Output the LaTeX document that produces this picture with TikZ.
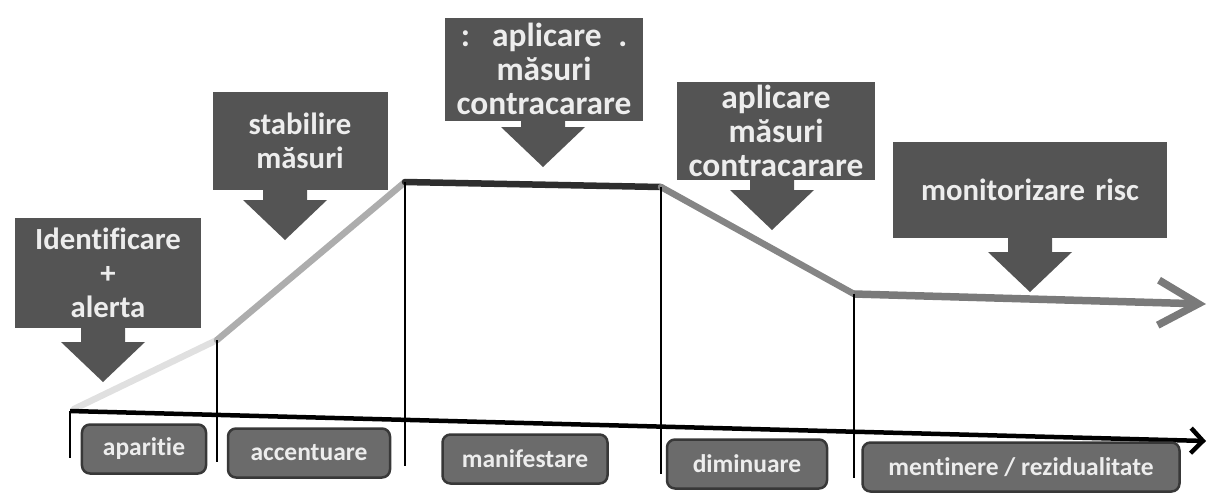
\documentclass[tikz,border=0pt]{standalone}
\usepackage{fontspec}
\setmainfont{Carlito}[Ligatures=NoCommon]
\usetikzlibrary{positioning,arrows.meta}

\begin{document}
\begin{tikzpicture}[x=0.2mm, y=-0.2mm,
  callout/.style={fill=black!67, text=white!93!black, align=center, inner sep=0pt,
    text width=#1, minimum width=#1, font=\fontsize{17.5}{19.5}\selectfont\bfseries},
  big/.style={font=\fontsize{19}{19.5}\selectfont\bfseries},
  ptr/.style={fill=black!67},
  phase/.style={draw=black!78, line width=0.5mm, fill=black!58, rounded corners=1.6mm,
    text=white!93!black, inner sep=0pt, minimum width=#1, minimum height=9.8mm,
    font=\fontsize{14.5}{16}\selectfont\bfseries},
  curve/.style={draw=#1, line width=1.3mm, line cap=round},
  tick/.style={line width=0.35mm},
  axis/.style={line width=0.9mm, -{Straight Barb[length=2.4mm,width=5mm]}}]
\useasboundingbox (0,0) rectangle (1208,495);
% --- points of the risk curve
\coordinate (c0) at (74,409);
\coordinate (c1) at (217,340);
\coordinate (c2) at (405,182);
\coordinate (c3) at (661,187);
\coordinate (c4) at (854,294);
\coordinate (c5) at (1206,304);
% --- time axis and phase borders
\coordinate (a0) at (70,411);
\coordinate (a1) at (1206,441);
\coordinate (f0) at (70,458);
\coordinate (f1) at (217,462);
\coordinate (f2) at (405,466);
\coordinate (f3) at (661,474);
\coordinate (f4) at (854,478);
\draw[curve=black!12] (c0) -- (c1);
\draw[curve=black!32] (c1) -- (c2);
\draw[curve=black!82] (c2) -- (c3);
\draw[curve=black!48] (c3) -- (c4);
\draw[curve=black!52, line width=1.5mm, line cap=butt, -{Straight Barb[length=8mm,width=9mm]}] (c4) -- (c5);
\draw[tick] (a0) -- (f0);
\draw[tick] (c1) -- (f1);
\draw[tick] (c2) -- (f2);
\draw[tick] (c3) -- (f3);
\draw[tick] (c4) -- (f4);
\draw[axis] (a0) -- (a1);
% --- callouts above the curve
\node[callout=37mm, minimum height=22mm] (ident) at (108,273) {Identificare\\+\\alerta};
\node[callout=35mm, minimum height=19.6mm] (stab) at (300,141) {stabilire\\măsuri};
\node[callout=39.6mm, minimum height=20.6mm, big] (apl) at (544,69) {:\, aplicare \,.\\măsuri\\contracarare};
\node[callout=39.6mm, minimum height=19.6mm, big] (aplb) at (776,131) {aplicare\\măsuri\\contracarare};
\node[callout=54.8mm, minimum height=19.2mm] (monit) at (1030,190) {monitorizare risc};
\coordinate (t1) at (103,382);
\coordinate (t2) at (285,240);
\coordinate (t3) at (543,167);
\coordinate (t4) at (772,230);
\coordinate (t5) at (1030,292);
\foreach \b/\t in {ident/t1, stab/t2, apl/t3, aplb/t4, monit/t5}
  \fill[ptr] (\t) -- ++(-42,-40) -- ++(20,0) |- ([yshift=0.5pt]\t |- \b.south)
    -- ++(22,0) |- ([shift={(42,-40)}]\t) -- cycle;
% --- phase names under the axis
\node[phase=24.8mm] (apar) at (144,449) {aparitie};
\node[phase=32.4mm] (accen) at (309,453) {accentuare};
\node[phase=33mm] (manif) at (525,459) {manifestare};
\node[phase=32mm] (dimin) at (747,464) {diminuare};
\node[phase=63.4mm] (menti) at (1021,467) {mentinere / rezidualitate};
\end{tikzpicture}
\end{document}
